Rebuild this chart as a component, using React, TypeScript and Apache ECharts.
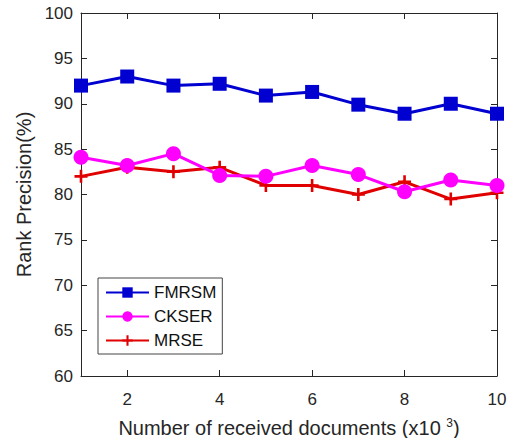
import React, { useEffect, useRef } from "react";
import * as echarts from "echarts";

const docs = [1, 2, 3, 4, 5, 6, 7, 8, 9, 10];
const fmrsm = [92.0, 93.0, 92.0, 92.2, 90.9, 91.3, 89.9, 88.9, 90.0, 88.9];
const ckser = [84.1, 83.2, 84.5, 82.1, 82.0, 83.2, 82.2, 80.3, 81.6, 81.0];
const mrse = [82.0, 83.0, 82.5, 83.0, 81.0, 81.0, 80.0, 81.4, 79.5, 80.2];
const xTicks = [2, 4, 6, 8, 10];

const FONT = "Liberation Sans, Arial, sans-serif";
const TXT = "#262626";
const PLUS =
  "path://M-1.2,-6 L1.2,-6 L1.2,-1.2 L6,-1.2 L6,1.2 L1.2,1.2 L1.2,6 L-1.2,6 L-1.2,1.2 L-6,1.2 L-6,-1.2 L-1.2,-1.2Z";

export default function App() {
  const ref = useRef<HTMLDivElement>(null);
  useEffect(() => {
    const chart = echarts.init(ref.current!, null, { renderer: "svg" });
    const pairs = (ys: number[]) => docs.map((x, i) => [x, ys[i]]);
    const axisLine = { show: true, lineStyle: { color: "#262626", width: 1 } };
    chart.setOption({
      animation: false,
      backgroundColor: "#fff",
      grid: { left: 81, right: 10, top: 13, bottom: 62, outerBoundsMode: "none", containLabel: false },
      legend: {
        orient: "vertical",
        left: 98,
        top: 278,
        borderColor: "#444",
        borderWidth: 1,
        padding: [6, 6, 5, 7],
        itemGap: 7,
        itemWidth: 43,
        itemHeight: 13,
        textStyle: { fontFamily: FONT, fontSize: 17, color: "#111" },
        data: ["FMRSM", "CKSER", "MRSE"],
      },
      xAxis: [
        {
          type: "value",
          min: 1,
          max: 10,
          axisLine,
          splitLine: { show: false },
          axisTick: { show: true, inside: true, length: 6, customValues: xTicks, lineStyle: { color: "#262626" } },
          axisLabel: { customValues: xTicks, fontFamily: FONT, fontSize: 17, color: TXT, margin: 15 },
          name: "{a|Number of received documents (x10 }{s|3}{a|)}",
          nameLocation: "middle",
          nameGap: 41,
          nameTextStyle: {
            rich: {
              a: { fontFamily: FONT, fontSize: 20, color: TXT },
              s: { fontFamily: FONT, fontSize: 12, color: TXT, verticalAlign: "top", padding: [0, 0, 9, 0] },
            },
          },
        },
        {
          type: "value",
          position: "top",
          min: 1,
          max: 10,
          axisLine,
          splitLine: { show: false },
          axisTick: { show: true, inside: true, length: 6, customValues: xTicks, lineStyle: { color: "#262626" } },
          axisLabel: { show: false },
        },
      ],
      yAxis: [
        {
          type: "value",
          min: 60,
          max: 100,
          interval: 5,
          axisLine,
          splitLine: { show: false },
          axisTick: { show: true, inside: true, length: 6, lineStyle: { color: "#262626" } },
          axisLabel: { fontFamily: FONT, fontSize: 17, color: TXT, margin: 8 },
          name: "Rank Precision(%)",
          nameLocation: "middle",
          nameGap: 46,
          nameTextStyle: { fontFamily: FONT, fontSize: 20, color: TXT },
        },
        {
          type: "value",
          position: "right",
          min: 60,
          max: 100,
          interval: 5,
          axisLine,
          splitLine: { show: false },
          axisTick: { show: true, inside: true, length: 6, lineStyle: { color: "#262626" } },
          axisLabel: { show: false },
        },
      ],
      series: [
        {
          name: "FMRSM",
          type: "line",
          data: pairs(fmrsm),
          symbol: "rect",
          symbolSize: 14,
          color: "#0000d0",
          lineStyle: { width: 3, color: "#0000d0" },
          itemStyle: { color: "#0000d0" },
          z: 3,
        },
        {
          name: "CKSER",
          type: "line",
          data: pairs(ckser),
          symbol: "circle",
          symbolSize: 15,
          color: "#ff00ff",
          lineStyle: { width: 3, color: "#ff00ff" },
          itemStyle: { color: "#ff00ff" },
          z: 3,
        },
        {
          name: "MRSE",
          type: "line",
          data: pairs(mrse),
          symbol: PLUS,
          symbolSize: 13,
          color: "#e00000",
          lineStyle: { width: 3, color: "#e00000" },
          itemStyle: { color: "#e00000" },
          z: 2,
        },
      ],
    });
    return () => chart.dispose();
  }, []);
  return <div ref={ref} style={{ width: 507, height: 438, position: "absolute", left: 0, top: 0 }} />;
}
